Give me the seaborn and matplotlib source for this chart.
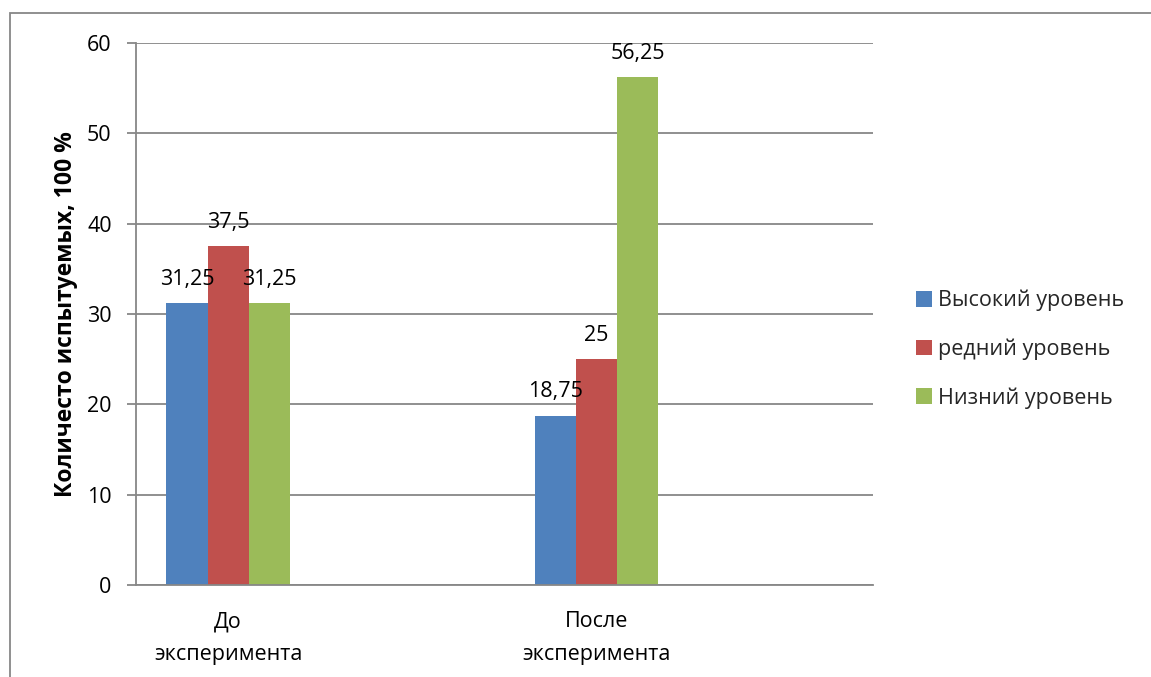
import numpy as np
import pandas as pd
import matplotlib
matplotlib.use("Agg")
import matplotlib.pyplot as plt
import seaborn as sns
from matplotlib.patches import Rectangle

# data
categories = ["До\nэксперимента", "После\nэксперимента"]
levels = ["Высокий уровень", "редний уровень", "Низний уровень"]
high_vals = [31.25, 18.75]
mid_vals = [37.5, 25]
low_vals = [31.25, 56.25]
y_ticks = [0, 10, 20, 30, 40, 50, 60]
y_label = "Количесто испытуемых, 100 %"

colors = ["#4F81BD", "#C0504D", "#9BBB59"]
GRID = "#878787"
FS = 15.5

sns.set_theme(style="white")
plt.rcParams["font.family"] = ["Open Sans", "DejaVu Sans"]

df = pd.DataFrame({
    "cat": categories * 3,
    "level": [lv for lv in levels for _ in categories],
    "value": high_vals + mid_vals + low_vals,
})

fig = plt.figure(figsize=(11.51, 6.77), dpi=100)
ax = fig.add_axes([136 / 1151, 1 - 585 / 677, (873 - 136) / 1151, (585 - 43) / 677])

# empty slots so the two groups sit in the first and third of four positions
order = [categories[0], "", categories[1], " "]
sns.barplot(data=df, x="cat", y="value", hue="level", order=order, hue_order=levels,
            palette=colors, width=0.67, saturation=1, linewidth=0, ax=ax, legend=True)

for cont in ax.containers:
    ax.bar_label(cont, fmt=lambda v: f"{v:g}".replace(".", ","), padding=9.5, fontsize=FS, color="black")

ax.set_ylim(0, 60)
ax.set_yticks(y_ticks)
ax.yaxis.grid(True, color=GRID, linewidth=1.3)
ax.set_axisbelow(True)
for s in ["top", "right"]:
    ax.spines[s].set_visible(False)
for s in ["left", "bottom"]:
    ax.spines[s].set_color(GRID)
    ax.spines[s].set_linewidth(1.3)
ax.tick_params(axis="y", length=6.5, width=1.3, color=GRID, pad=11, labelsize=FS, left=True,
               labelcolor="black")
ax.tick_params(axis="x", length=0, pad=19, labelsize=FS, labelcolor="black")
for t in ax.get_xticklabels():
    t.set_linespacing(1.7)
ax.set_xlabel("")
ax.set_ylabel(y_label, fontsize=16.5, fontweight="bold", color="black")
ax.yaxis.set_label_coords(-0.079, 0.5)

handles, labels = ax.get_legend_handles_labels()
ax.legend(handles, labels, loc="center left", bbox_to_anchor=(1.047, 0.435), frameon=False,
          fontsize=FS, handlelength=0.75, handleheight=0.75, handletextpad=0.25, labelspacing=1.27,
          borderaxespad=0)

fig.patches.append(Rectangle((10 / 1151, -0.1), 1.2, 1 - 13 / 677 + 0.1, transform=fig.transFigure,
                             fill=False, edgecolor=GRID, linewidth=1.3, figure=fig))

fig.savefig("out.png", dpi=100)
